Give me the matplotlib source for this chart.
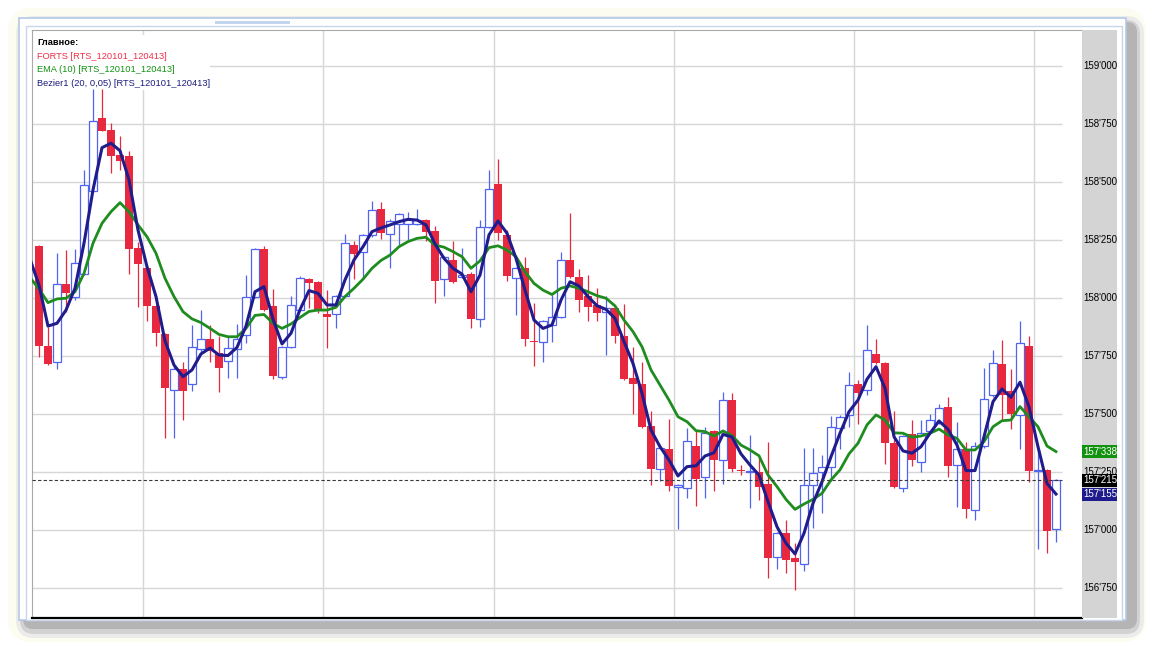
import numpy as np
import matplotlib
matplotlib.use("Agg")
import matplotlib.pyplot as plt
from matplotlib.patches import FancyBboxPatch, Rectangle

# RTS futures, candles (open, high, low, close)
opens = [158225, 157795, 157725, 158060, 158005, 158105, 158460, 158775, 158725, 158615,
         158610, 158215, 158130, 157965, 157845, 157605, 157695, 157630, 157780, 157825,
         157765, 157730, 157780, 157840, 158005, 158210, 157965, 157660, 157790, 157950,
         158080, 158070, 157930, 157930, 158010, 158230, 158200, 158270, 158385, 158275,
         158320, 158320, 158320, 158335, 158290, 158080, 158165, 158090, 158105, 157910,
         158305, 158490, 158270, 158085, 158130, 157815, 157810, 157885, 157920, 158165,
         158090, 158010, 157970, 157940, 157955, 157835, 157655, 157630, 157450, 157265,
         157350, 157185, 157180, 157360, 157230, 157425, 157300, 157560, 157260, 157250,
         157250, 157200, 156885, 156985, 156880, 156855, 157195, 157250, 157270, 157440,
         157495, 157630, 157605, 157760, 157720, 157375, 157180, 157415, 157295, 157425,
         157460, 157530, 157280, 157350, 157085, 157360, 157580, 157715, 157600, 157495,
         157795, 157255, 157260, 157005]
highs = [158230, 157875, 158195, 158205, 158210, 158550, 158900, 158900, 158755, 158700,
         158635, 158240, 158140, 157970, 157850, 157710, 157725, 157885, 157950, 157885,
         157835, 157830, 157890, 158100, 158215, 158225, 158040, 157795, 158010, 158095,
         158085, 158075, 158035, 158015, 158275, 158245, 158275, 158420, 158415, 158340,
         158365, 158370, 158385, 158340, 158310, 158180, 158245, 158215, 158110, 158335,
         158550, 158600, 158295, 158135, 158175, 157980, 157905, 158015, 158200, 158365,
         158125, 158100, 158045, 158010, 157960, 157975, 157790, 157725, 157515, 157360,
         157480, 157200, 157440, 157425, 157445, 157430, 157595, 157590, 157280, 157410,
         157310, 157380, 156990, 157045, 156945, 157355, 157355, 157325, 157490, 157495,
         157680, 157645, 157885, 157825, 157725, 157515, 157410, 157475, 157475, 157500,
         157545, 157575, 157465, 157380, 157380, 157700, 157775, 157820, 157695, 157900,
         157835, 157345, 157265, 157220]
lows = [157745, 157710, 157695, 157940, 157990, 158100, 158455, 158720, 158540, 158550,
        158105, 157960, 157900, 157795, 157395, 157395, 157475, 157600, 157765, 157725,
        157595, 157655, 157655, 157805, 158000, 157945, 157650, 157650, 157785, 157945,
        157955, 157935, 157785, 157870, 158005, 158080, 158080, 158265, 158255, 158130,
        158230, 158250, 158315, 158245, 157980, 158010, 158065, 158085, 157870, 157875,
        158300, 158250, 158075, 157925, 157795, 157705, 157725, 157810, 157915, 158085,
        157940, 157900, 157900, 157755, 157805, 157645, 157500, 157440, 157195, 157210,
        157170, 157005, 157140, 157105, 157140, 157170, 157200, 157250, 157235, 157095,
        157130, 156795, 156830, 156815, 156740, 156825, 157010, 157075, 157210, 157350,
        157445, 157455, 157580, 157715, 157285, 157180, 157165, 157275, 157250, 157420,
        157455, 157230, 157100, 157050, 157045, 157355, 157575, 157475, 157435, 157350,
        157205, 156920, 156900, 156950]
closes = [157795, 157715, 158060, 158020, 158150, 158485, 158765, 158720, 158610, 158590,
          158210, 158145, 157965, 157850, 157610, 157695, 157600, 157790, 157825, 157770,
          157700, 157785, 157825, 158005, 158210, 157950, 157665, 157790, 157970, 158085,
          158065, 157950, 157920, 158010, 158235, 158190, 158270, 158380, 158280, 158330,
          158360, 158340, 158335, 158285, 158075, 158175, 158070, 158100, 157910, 158305,
          158470, 158280, 158095, 158130, 157825, 157810, 157900, 157920, 158165, 158090,
          157990, 157960, 157935, 157955, 157835, 157650, 157630, 157445, 157265, 157355,
          157190, 157195, 157385, 157220, 157420, 157300, 157560, 157265, 157255, 157255,
          157185, 156880, 156985, 156870, 156860, 157195, 157245, 157270, 157445, 157485,
          157625, 157590, 157775, 157720, 157375, 157185, 157405, 157300, 157420, 157475,
          157525, 157275, 157350, 157090, 157360, 157565, 157720, 157580, 157500, 157805,
          157255, 157260, 156995, 157215]

# indicator lines (first point belongs to the candle hidden at the left edge)
ema10 = [158088, 158039, 157980, 157996, 157999, 158027, 158106, 158236, 158322, 158372,
         158411, 158372, 158315, 158264, 158193, 158085, 158006, 157941, 157910, 157894,
         157869, 157843, 157833, 157833, 157869, 157925, 157929, 157891, 157869, 157888,
         157916, 157942, 157948, 157948, 157960, 158006, 158042, 158081, 158128, 158162,
         158185, 158221, 158243, 158257, 158262, 158228, 158219, 158200, 158178, 158128,
         158160, 158217, 158225, 158207, 158178, 158113, 158063, 158034, 158015, 158042,
         158052, 158042, 158027, 158010, 157999, 157966, 157905, 157855, 157790, 157690,
         157625, 157560, 157488, 157467, 157428, 157424, 157405, 157427, 157407, 157366,
         157345, 157320, 157237, 157187, 157132, 157089, 157112, 157132, 157158, 157216,
         157259, 157328, 157374, 157453, 157496, 157474, 157419, 157417, 157400, 157405,
         157417, 157435, 157410, 157395, 157345, 157345, 157381, 157445, 157471, 157474,
         157532, 157488, 157445, 157362, 157338]
bezier = [158168, 158056, 157879, 157891, 157948, 158042, 158236, 158466, 158648, 158667,
          158635, 158509, 158293, 158135, 158006, 157815, 157711, 157661, 157690, 157759,
          157784, 157754, 157752, 157787, 157879, 158027, 158049, 157909, 157802, 157848,
          157950, 158032, 158020, 157970, 157970, 158078, 158164, 158221, 158286, 158302,
          158315, 158329, 158339, 158336, 158315, 158233, 158171, 158128, 158103, 158027,
          158099, 158272, 158332, 158279, 158171, 158034, 157905, 157869, 157884, 157991,
          158070, 158052, 158006, 157967, 157951, 157912, 157812, 157718, 157589, 157431,
          157359, 157302, 157233, 157273, 157277, 157319, 157333, 157412, 157401, 157328,
          157280, 157237, 157122, 157014, 156943, 156897, 156986, 157115, 157208, 157316,
          157417, 157510, 157560, 157650, 157704, 157611, 157402, 157341, 157331, 157359,
          157417, 157470, 157434, 157366, 157256, 157256, 157402, 157553, 157608, 157572,
          157637, 157531, 157359, 157201, 157155]

price_ticks = [156750, 157000, 157250, 157500, 157750, 158000, 158250, 158500, 158750, 159000]
period_breaks = [12.6, 32.6, 51.6, 71.6, 91.6, 111.6]

legend_title = "Главное:"
legend_items = [("FORTS [RTS_120101_120413]", "#f0304a"),
                ("EMA (10) [RTS_120101_120413]", "#129212"),
                ("Bezier1 (20, 0,05) [RTS_120101_120413]", "#1c1c7c")]

RED = "#e8283f"
BLUE = "#5064f0"
GREEN = "#1e8c1e"
NAVY = "#201c8c"
FONT = ["Liberation Sans", "DejaVu Sans"]

W, H = 1152, 646
fig = plt.figure(figsize=(W / 100, H / 100), dpi=100)

# window frame drawn in pixel space
bg = fig.add_axes([0, 0, 1, 1])
bg.set_xlim(0, W)
bg.set_ylim(H, 0)
bg.axis("off")
bg.add_patch(FancyBboxPatch((8, 8), 1138, 634, boxstyle="round,pad=0,rounding_size=24",
                            fc="#fcfcf0", ec="none"))
bg.add_patch(FancyBboxPatch((16, 16), 1128, 622, boxstyle="round,pad=0,rounding_size=18",
                            fc="#ececec", ec="none"))
bg.add_patch(FancyBboxPatch((20, 20), 1120, 614, boxstyle="round,pad=0,rounding_size=14",
                            fc="#d2d2d2", ec="none"))
bg.add_patch(FancyBboxPatch((23, 22), 1114, 607, boxstyle="round,pad=0,rounding_size=10",
                            fc="#b4b4b4", ec="none"))
bg.add_patch(Rectangle((19, 18), 1107, 602, fc="white", ec="#b4c8e6", lw=1.2))
bg.add_patch(Rectangle((26, 26), 1096, 594, fc="white", ec="#c8d6ec", lw=1.0))
bg.add_patch(Rectangle((215, 21), 75, 3, fc="#c4d6ee", ec="none"))

# main price panel
x0, x1, y0, y1 = 32, 1081.7, 30, 618
ax = fig.add_axes([x0 / W, 1 - y1 / H, (x1 - x0) / W, (y1 - y0) / H])
ax.set_facecolor("white")

n = len(closes)
xs = np.arange(1, n + 1)
xl = np.arange(0, n + 1)

px = 250 / 58  # price per pixel
ax.set_xlim((x0 - 30) / 9, (x1 - 30) / 9)
ax.set_ylim(158000 - (y1 - 298) * px, 158000 + (298 - y0) * px)

grid_end = n + 0.67
ax.hlines(price_ticks, ax.get_xlim()[0], grid_end, color="#d6d6d6", lw=1.0, zorder=0.5)
for b in period_breaks:
    ax.axvline(b, color="#d6d6d6", lw=1.0, zorder=0.5)

# white plate under the legend
ax.add_patch(Rectangle((0.0, 0.898), 0.17, 0.094, transform=ax.transAxes,
                       fc="white", ec="none", zorder=1))

o = np.array(opens)
h = np.array(highs)
l = np.array(lows)
c = np.array(closes)
up = c >= o
cols = np.where(up, BLUE, RED)
ax.vlines(xs, l, h, colors=cols, lw=0.9, zorder=2)
body_lo = np.minimum(o, c)
body_h = np.maximum(np.abs(c - o), 4)
ax.bar(xs[up], body_h[up], bottom=body_lo[up], width=0.8, color="white",
       edgecolor=BLUE, lw=0.9, zorder=3)
ax.bar(xs[~up], body_h[~up], bottom=body_lo[~up], width=0.86, color=RED,
       edgecolor="none", zorder=3)

ax.plot(xl, ema10, color=GREEN, lw=2.0, zorder=4, solid_joinstyle="round")
ax.plot(xl, bezier, color=NAVY, lw=2.2, zorder=5, solid_joinstyle="round")

ax.hlines(closes[-1], ax.get_xlim()[0], grid_end, color="#3a3a3a", lw=0.8,
          linestyles=(0, (3, 2)), zorder=6)

for s in ["top", "left"]:
    ax.spines[s].set_color("#a8a8a8")
ax.spines["right"].set_visible(False)
ax.spines["bottom"].set_color("black")
ax.spines["bottom"].set_linewidth(1.6)
ax.set_xticks([])
ax.set_yticks([])

ax.text(0.0048, 0.978, legend_title, transform=ax.transAxes, fontsize=6.7, fontweight="bold",
        family=FONT, va="center", ha="left", zorder=7)
for k, (txt, colr) in enumerate(legend_items):
    ax.text(0.0048, 0.955 - k * 0.023, txt, transform=ax.transAxes, fontsize=6.7,
            family=FONT, color=colr, va="center", ha="left", zorder=7)

# price scale strip
sx1 = 1117.3
axr = fig.add_axes([x1 / W, 1 - y1 / H, (sx1 - x1) / W, (y1 - y0) / H])
axr.set_facecolor("#d4d4d4")
axr.set_xlim(0, 1)
axr.set_ylim(ax.get_ylim())
axr.set_xticks([])
axr.set_yticks([])
for s in axr.spines.values():
    s.set_visible(False)


def fmt(v):
    return f"{v:,}".replace(",", "'")


for t in price_ticks:
    axr.text(0.04, t, fmt(t), fontsize=7, family=FONT, va="center", ha="left", color="black")

for val, fc in [(ema10[-1], "#12920f"), (closes[-1], "black"), (bezier[-1], "#1e1c8c")]:
    axr.add_patch(Rectangle((0.0, val - 6.5 * px), 1.0, 13 * px, fc=fc, ec="none", zorder=3))
    axr.text(0.04, val, fmt(val), fontsize=7, family=FONT, va="center", ha="left",
             color="white", zorder=4)

fig.savefig("out.png", dpi=100)
